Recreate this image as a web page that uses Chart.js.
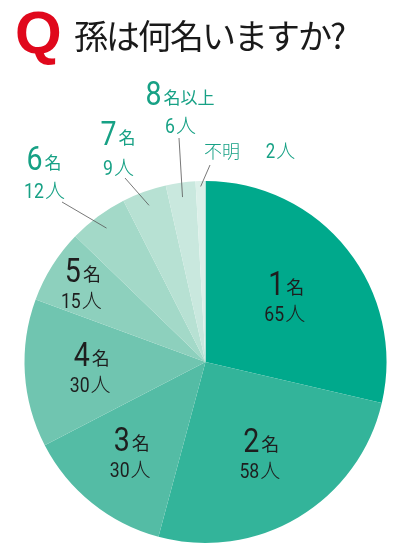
<!DOCTYPE html>
<html>
<head>
<meta charset="utf-8">
<script src="https://cdn.jsdelivr.net/npm/chart.js@4.4.0/dist/chart.umd.min.js"></script>
<style>
html,body{margin:0;padding:0;background:#fff;}
#wrap{position:relative;width:400px;height:558px;overflow:hidden;}
#q{position:absolute;left:15px;top:-2px;font:900 60px "Liberation Sans",Arial,sans-serif;color:#e0081c;}
#title{position:absolute;left:74px;top:10px;font:400 34px "Noto Sans CJK JP",sans-serif;color:#1a1a1a;letter-spacing:-2px;}
canvas{position:absolute;left:0;top:0;}
</style>
</head>
<body>
<div id="wrap">
<canvas id="c" width="400" height="558"></canvas>
<div id="q">Q</div>
<div id="title">孫は何名いますか?</div>
</div>
<script>
const categories = ['1名','2名','3名','4名','5名','6名','7名','8名以上','不明'];
const counts = [65, 58, 30, 30, 15, 12, 9, 6, 2];
const colors = ['#00a98c','#33b49a','#54bca5','#70c5b0','#8dd0bd','#a3d9c8','#b7e1d3','#c9e8de','#dcf0e9'];

const insideLabels = {0:0.57,1:0.60,2:0.65,3:0.63,4:0.80};
const outsideLabels = {
  5:{x:44,y1:170,y2:198,lx1:62,ly1:202,rf:0.92},
  6:{x:118,y1:145,y2:175,lx1:125,ly1:178,rf:0.92},
  7:{x:180,y1:105,y2:133,lx1:179,ly1:138,rf:0.92},
};
const NUMFONT = '"Roboto","Noto Sans CJK JP",sans-serif';
const JPFONT = '"Noto Sans CJK JP",sans-serif';
const SQ = 0.84;

function numText(ctx, s, x, baseline, size, wt){
  ctx.font = wt + ' ' + size + 'px ' + NUMFONT;
  ctx.save();
  ctx.translate(x, baseline);
  ctx.scale(SQ, 1);
  ctx.fillText(s, 0, 0);
  ctx.restore();
}
function numWidth(ctx, s, size, wt){
  ctx.font = wt + ' ' + size + 'px ' + NUMFONT;
  return ctx.measureText(s).width * SQ;
}
function drawNameLine(ctx, text, cx, baseline, numSize, sufSize, color, wt){
  const m = text.match(/^(\d+)(.*)$/);
  const num = m ? m[1] : '';
  const suf = m ? m[2] : text;
  ctx.fillStyle = color;
  ctx.textAlign = 'left';
  ctx.textBaseline = 'alphabetic';
  const w1 = numWidth(ctx, num, numSize, wt);
  ctx.font = '400 ' + sufSize + 'px ' + JPFONT;
  const w2 = ctx.measureText(suf).width;
  const x = cx - (w1 + w2 + 2) / 2;
  numText(ctx, num, x, baseline, numSize, wt);
  ctx.font = '400 ' + sufSize + 'px ' + JPFONT;
  ctx.fillText(suf, x + w1 + 2, baseline - 1);
}
function drawCountLine(ctx, n, cx, baseline, numSize, sufSize, color){
  const num = String(n);
  ctx.fillStyle = color;
  ctx.textAlign = 'left';
  ctx.textBaseline = 'alphabetic';
  const w1 = numWidth(ctx, num, numSize, 400);
  ctx.font = '300 ' + sufSize + 'px ' + JPFONT;
  const w2 = ctx.measureText('人').width;
  const x = cx - (w1 + w2) / 2;
  numText(ctx, num, x, baseline, numSize, 400);
  ctx.font = '300 ' + sufSize + 'px ' + JPFONT;
  ctx.fillText('人', x + w1 + 1, baseline);
}

const labelPlugin = {
  id: 'labels',
  afterDatasetsDraw(chart){
    const ctx = chart.ctx;
    const meta = chart.getDatasetMeta(0);
    ctx.save();
    meta.data.forEach((arc, i) => {
      const p = arc.getProps(['x','y','startAngle','endAngle','outerRadius'], true);
      const mid = (p.startAngle + p.endAngle) / 2;
      if (insideLabels[i] !== undefined) {
        const f = insideLabels[i];
        const ax = p.x + Math.cos(mid) * p.outerRadius * f;
        const ay = p.y + Math.sin(mid) * p.outerRadius * f;
        drawNameLine(ctx, categories[i], ax, ay - 3, 34, 18, '#1e1e1e', 400);
        drawCountLine(ctx, counts[i], ax - 2, ay + 23, 21, 20, '#1e1e1e');
      } else if (outsideLabels[i]) {
        const o = outsideLabels[i];
        drawNameLine(ctx, categories[i], o.x, o.y1, 34, 17, '#17a185', 400);
        drawCountLine(ctx, counts[i], o.x, o.y2, 21, 20, '#17a185');
        const ex = p.x + Math.cos(mid) * p.outerRadius * o.rf;
        const ey = p.y + Math.sin(mid) * p.outerRadius * o.rf;
        ctx.strokeStyle = '#555';
        ctx.lineWidth = 0.8;
        ctx.beginPath(); ctx.moveTo(o.lx1, o.ly1); ctx.lineTo(ex, ey); ctx.stroke();
      } else {
        ctx.fillStyle = '#17a185';
        ctx.font = '300 18px ' + JPFONT;
        ctx.textAlign = 'left';
        ctx.fillText(categories[i], 204, 158);
        drawCountLine(ctx, counts[i], 280, 158, 20, 19, '#17a185');
        const ex = p.x + Math.cos(mid) * p.outerRadius * 0.97;
        const ey = p.y + Math.sin(mid) * p.outerRadius * 0.97;
        ctx.strokeStyle = '#555';
        ctx.lineWidth = 0.8;
        ctx.beginPath(); ctx.moveTo(210, 165); ctx.lineTo(ex, ey); ctx.stroke();
      }
    });
    ctx.restore();
  }
};

new Chart(document.getElementById('c'), {
  type: 'pie',
  data: {
    labels: categories,
    datasets: [{
      data: counts,
      backgroundColor: colors,
      borderWidth: 0
    }]
  },
  options: {
    responsive: false,
    animation: false,
    layout: { padding: { left: 24, right: 13, top: 181, bottom: 15 } },
    plugins: { legend: { display: false }, tooltip: { enabled: false } }
  },
  plugins: [labelPlugin]
});
</script>
</body>
</html>
